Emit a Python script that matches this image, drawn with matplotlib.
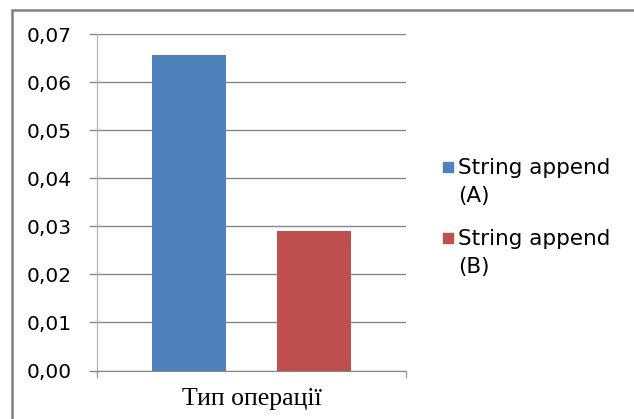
import matplotlib.pyplot as plt
from matplotlib.patches import Rectangle
from matplotlib.ticker import FuncFormatter

# час виконання операції, с
series = ["String append\n(A)", "String append\n(B)"]
values = [0.0656, 0.029]
colors = ["#4F81BD", "#C0504D"]
y_ticks = [0.00, 0.01, 0.02, 0.03, 0.04, 0.05, 0.06, 0.07]
x_title = "Тип операції"

W, H = 634, 419
fig = plt.figure(figsize=(W / 100, H / 100), dpi=100)
ax = fig.add_axes([97.5 / W, 1 - 370.5 / H, 308.5 / W, 336.5 / H])

# одна категорія, два ряди поруч
offsets = [-0.202, 0.202]
for off, v, c in zip(offsets, values, colors):
    ax.bar(0.5 + off, v, width=0.24, color=c, edgecolor="none", zorder=3)

ax.set_xlim(0, 1)
ax.set_ylim(0, 0.07)
ax.set_yticks(y_ticks)
ax.yaxis.set_major_formatter(FuncFormatter(lambda v, p: f"{v:.2f}".replace(".", ",")))
ax.set_xticks([0, 1])
ax.set_xticklabels([])
ax.grid(axis="y", color="#868686", linewidth=1.0, zorder=0)

for s in ["top", "right"]:
    ax.spines[s].set_visible(False)
ax.spines["left"].set_color("#B0B0B0")
ax.spines["bottom"].set_color("#868686")
ax.tick_params(axis="y", length=5.5, width=1, color="#868686", pad=13,
               labelsize=14.5, labelcolor="#000000")
ax.tick_params(axis="x", length=5, width=1, color="#A0A0A0")

ax.set_xlabel(x_title, fontsize=18.5, family="Liberation Serif", labelpad=4)

# легенда праворуч, як в Excel
leg_y = [167, 238]
for lbl, c, ty in zip(series, colors, leg_y):
    fig.add_artist(Rectangle((443 / W, 1 - (ty + 5) / H), 10 / W, 10 / H,
                             transform=fig.transFigure, color=c))
    fig.text(458 / W, 1 - (ty - 9) / H, lbl, fontsize=15.5, va="top", ha="left",
             linespacing=1.5)

# рамка області діаграми
fig.add_artist(Rectangle((12 / W, -0.1), 1.2, 1 - 10 / H + 0.1, transform=fig.transFigure,
                         fill=False, edgecolor="#808080", linewidth=1.8))

fig.savefig("out.png", dpi=100)
